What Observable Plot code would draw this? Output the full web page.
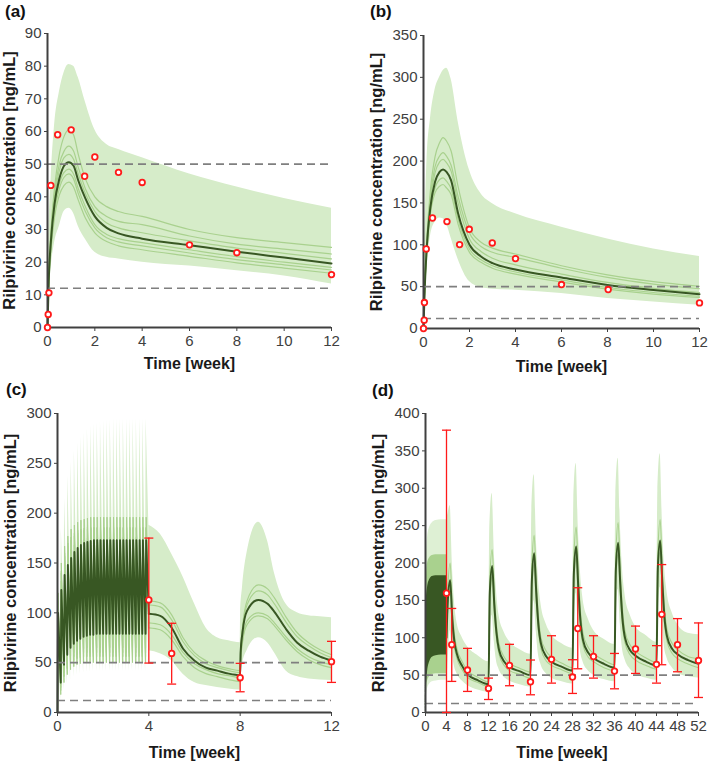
<!DOCTYPE html>
<html><head><meta charset="utf-8">
<script src="https://cdn.jsdelivr.net/npm/d3@7"></script>
<script src="https://cdn.jsdelivr.net/npm/@observablehq/plot@0.6"></script>
<style>
body{margin:0;background:#fff;}
#wrap{position:relative;width:709px;height:763px;font-family:"Liberation Sans",Arial,Helvetica,sans-serif;overflow:hidden;}
.panel{position:absolute;}
.lab{position:absolute;font-weight:bold;font-size:17px;color:#111;}
</style></head>
<body><div id="wrap"></div>
<script>
// ---------------- DATA ----------------
const Y_TITLE = "Rilpivirine concentration [ng/mL]";
const X_TITLE = "Time [week]";
const refLevels = [50, 12];

// Panel (a)
const aYTicks = [0,10,20,30,40,50,60,70,80,90];
const aXTicks = [0,2,4,6,8,10,12];
const aT   = [0,0.05,0.15,0.3,0.5,0.7,0.9,1.1,1.3,1.6,2,2.5,3,4,6,8,10,12];
const aMed = [0,14,27,38,45.5,49.5,50.6,49.5,45,39.5,34,30.5,28.8,27.2,25.2,23.2,21.4,19.6];
const aHi  = [0,25,45,62,72,78,80.5,80,76.5,69,60.5,56,54.5,52,47,43,39.5,36.5];
const aLo  = [0,8,18,26,31,35.5,36.5,35,31,27,23,21.5,21,20,18.8,17.4,15.8,13.3];
const aL1  = [0,15,30,43,53,58.5,60.5,59,53,45.5,40,37,35.5,34,30,27.5,26,24.5];
const aL2  = [0,14.5,29,41,50,54,55.5,54,49,42.5,37,34,32.5,31.5,28,25.5,24,22.5];
const aL3  = [0,14,28,40,48,52,53,51.5,47,41,35.5,32,30.5,29,26.5,24.3,22.7,21];
const aL4  = [0,13.5,26,37,44,47.5,48.5,47,42.5,37,31.5,28.5,27.2,26,23.8,21.7,20,18.4];
const aL5  = [0,13,25,35.5,42.5,46,47,45.5,41,35.5,30.5,27.5,26.2,25,22.8,20.8,19.2,17.6];
const aL6  = [0,12.5,24,34,40.5,43.5,44.5,43,39,33.5,29,26.3,25,23.8,21.8,19.8,18.2,16.6];
const aObsT = [0,0.03,0.06,0.14,0.43,1,1.57,2,3,4,6,8,12];
const aObsV = [0,4,10.6,43.5,59,60.5,46.3,52.2,47.5,44.4,25.3,22.9,16.2];

// Panel (b)
const bYTicks = [0,50,100,150,200,250,300,350];
const bXTicks = [0,2,4,6,8,10,12];
const bT   = [0,0.05,0.15,0.3,0.5,0.7,0.85,1.0,1.2,1.5,2,2.5,3,4,6,8,10,12];
const bMed = [0,45,100,145,175,187,190,187,177,138,100,86,78,70.5,61,52,46,41];
const bHi  = [0,90,200,250,285,300,308,311,298,248,189,161,149,137,121,107,95,86];
const bLo  = [0,20,70,110,127,132,131,125,108,83,56,49,47,45.7,41.8,35.8,31.8,27.8];
const bL1  = [0,50,110,165,205,222,228,224,212,170,120,103,96,89,75,64,56,50.5];
const bL2  = [0,48,106,157,193,206,210,206,195,158,114,98,91,85,72,61,53,47.5];
const bL3  = [0,47,104,153,186,199,202,198,188,150,107,92,84,76,65,55,48,43];
const bL4  = [0,44,97,140,168,178,180,176,167,131,95,82,75,67.5,58,49,43,38.5];
const bL5  = [0,43,95,137,162,170,172,168,160,125,91,79,72,65,55.5,47,41,37];
const bObsT = [0,0.03,0.04,0.12,0.39,1.02,1.57,1.99,2.99,4,6,8.03,12];
const bObsV = [0,10,31,95,132,127.7,100.2,118.5,102.2,83.5,52.5,46.5,30.6];

// Panel (c) – oral daily dosing (days 0..27), then injections
const cYTicks = [0,50,100,150,200,250,300];
const cXTicks = [0,4,8,12];
const cOralDay = [0,1,2,3,4,5,6,7,8,9,10,11,12,13,14,15,16,17,18,19,20,21,22,23,24,25,26,27];
const cOralMedTr = [0,30,48,58,65,69,72,74,76,77,78,78,79,79,79,79,79,79,79,79,79,79,79,79,79,79,79,79];
const cOralMedPk = [100,123,138,148,155,161,165,168,170,171,172,173,173,173,173,173,173,173,173,173,173,173,173,173,173,173,173,173];
const cOralL1Tr = [0,25,40,48,53,56,58,59,60,60,60,60,60,60,60,60,60,60,60,60,60,60,60,60,60,60,60,60];
const cOralL1Pk = [120,150,167,177,184,188,191,193,194,195,196,196,196,196,196,196,196,196,196,196,196,196,196,196,196,196,196,196];
const cOralL2Tr = [0,28,44,52,57,60,62,63,64,65,65,65,65,65,65,65,65,65,65,65,65,65,65,65,65,65,65,65];
const cOralL2Pk = [110,140,157,167,173,177,180,182,183,184,185,185,185,185,185,185,185,185,185,185,185,185,185,185,185,185,185,185];
const cOralL3Tr = [0,22,36,44,49,52,54,55,56,56,56,56,56,56,56,56,56,56,56,56,56,56,56,56,56,56,56,56];
const cOralL3Pk = [105,132,148,158,164,168,171,173,174,175,176,176,176,176,176,176,176,176,176,176,176,176,176,176,176,176,176,176];
const cOralL4Tr = [0,18,30,38,43,46,48,49,50,50,50,50,50,50,50,50,50,50,50,50,50,50,50,50,50,50,50,50];
const cOralL4Pk = [112,142,160,170,176,180,183,184,185,186,186,186,186,186,186,186,186,186,186,186,186,186,186,186,186,186,186,186];
const cOralHiTr = [0,60,85,100,110,116,120,123,125,127,128,129,130,130,130,130,130,130,130,130,130,130,130,130,130,130,130,130];
const cOralHiPk = [140,185,215,238,252,263,271,277,281,285,288,290,291,292,293,294,294,295,295,295,295,295,295,295,295,295,295,295];
const cOralLoTr = [0,12,22,28,32,35,37,38,39,40,40,41,41,41,41,41,41,41,41,41,41,41,41,41,41,41,41,41];
const cOralLoPk = [70,88,98,104,108,110,112,113,114,115,115,115,115,115,115,115,115,115,115,115,115,115,115,115,115,115,115,115];
const cT   = [4,4.5,5,5.5,6,6.5,7,7.5,8,8.02,8.1,8.3,8.8,9.2,9.5,10,10.5,11,11.5,12];
const cMed = [99,97,85,64,52,45,42,39,37.5,60,80,102,113,109,101,84,70,62,56,52];
const cHi  = [188,179,159,136,109,85,75,72,70,100,125,160,191,172,140,109,100,97,96,95];
const cLo  = [62,59,52,38.5,30,27,25,23.5,22.5,35,48,62,75,70,60,42,36,33.5,32.5,32];
const cL1  = [112,110,98,75,60,52,47,44,42,62,85,112,128,124,115,96,80,70,63,58];
const cL2  = [108,106,93,71,57,49,45,42,40,60,82,108,122,118,109,91,76,67,60,55];
const cL3  = [90,88,78,60,49,43,39,37,35,55,72,92,100,97,90,76,64,56,51,48];
const cL4  = [85,83,73,56,45,39,36,33,31,52,70,88,97,94,87,73,61,53,48,45];
const cObsT  = [4,5,8,12];
const cObsV  = [113,59.3,34.9,51];
const cObsLo = [49.6,28.5,20.8,30.2];
const cObsHi = [175,89.5,49.3,71.4];

// Panel (d)
const dYTicks = [0,50,100,150,200,250,300,350,400];
const dXTicks = [0,4,8,12,16,20,24,28,32,36,40,44,48,52];
const dOralT     = [0,0.15,0.4,0.8,1.3,2,3,4];
const dOralBandHi= [0,200,235,248,254,257,258,258];
const dOralBandLo= [0,18,32,38,41,42,43,43];
const dOralLtHi  = [0,175,200,207,210,211,211,211];
const dOralLtLo  = [0,28,42,48,51,52,52,52];
const dOralMedHi = [0,150,168,178,182,183,183,183];
const dOralMedLo = [0,32,55,68,74,76,77,77];
const dT = [4,4.25,4.7,5.1,5.5,6,7,8,10, 12,12.25,12.7,13.1,13.5,14,15,16,18, 20,20.25,20.7,21.1,21.5,22,23,24,26,
            28,28.25,28.7,29.1,29.5,30,31,32,34, 36,36.25,36.7,37.1,37.5,38,39,40,42, 44,44.25,44.7,45.1,45.5,46,47,48,50, 52];
const dMed = [100,150,177,125,95,78,62,51,43, 38,160,196,145,108,84,68,61,55, 50,175,213,160,118,92,75,68,61,
              56,185,222,168,124,97,80,73,65, 60,190,227,172,127,100,83,76,68, 63,193,230,175,129,102,85,78,70, 65];
const dHi  = [258,265,277,200,150,120,100,88,76, 68,250,293,215,165,130,107,95,84, 78,270,318,235,180,145,118,104,92,
              86,285,333,248,190,152,125,110,98, 91,290,340,255,195,158,130,115,103, 94,295,346,260,198,162,133,118,106, 104];
const dLo  = [43,60,110,80,62,52,42,36,30, 27,80,130,95,70,58,47,42,37, 34,95,150,108,78,64,52,46,41,
              38,100,160,115,83,68,56,50,44, 41,103,165,118,86,71,58,52,46, 43,105,168,120,88,73,60,53,48, 46];
const dL1  = [100,165,200,140,105,85,68,56,47, 41,180,218,160,118,92,74,66,59, 54,195,237,177,130,100,82,74,66,
              60,205,248,186,137,106,87,79,70, 64,210,254,190,140,109,90,82,73, 67,213,258,193,142,111,92,84,75, 72];
const dL2  = [100,140,165,115,88,72,57,47,40, 35,148,182,134,100,78,63,56,51, 46,162,198,148,109,85,69,63,57,
              52,172,207,156,115,90,74,68,60, 56,176,212,160,118,93,77,70,63, 58,179,215,162,120,95,79,72,65, 60];
const dObsT  = [4,5,8,12,16,20,24,28,29,32,36,40,44,45,48,52];
const dObsV  = [159.6,90.7,56.8,32.2,63,41.1,71.1,47.4,112.4,74.9,55.4,85,64.4,131.3,90.7,69.7];
const dObsLo = [0,41.6,28.2,17.4,35.8,23.7,39.3,25.5,58.5,46,31.7,52.3,39.3,63.9,54.5,20.1];
const dObsHi = [377.7,139.2,85.8,46,91.2,70.2,102.7,70.6,166.9,102.7,79,115.6,89.4,197.9,125.6,119.8];

// ---------------- STYLE ----------------
const BAND = "#d6ecc9", LIGHT = "#a9d18e", DARK = "#385723", RED = "#ff1a1a", AX = "#404040";
const FONT = '"Liberation Sans", Arial, Helvetica, sans-serif';

// ---------------- HELPERS ----------------
const series = (ts, vs) => ts.map((t, i) => ({t, v: vs[i]}));
const bandRows = (ts, lo, hi) => ts.map((t, i) => ({t, lo: lo[i], hi: hi[i]}));
const obsRows = (ts, vs, lo, hi) => ts.map((t, i) => ({t, v: vs[i], lo: lo ? lo[i] : null, hi: hi ? hi[i] : null}));
const PK = 0.025; // time to peak after an oral dose (weeks)
function zig(days, tr, pk, endT, endV) {
  const out = [];
  days.forEach((d, i) => { out.push({t: d / 7, v: tr[i]}); out.push({t: d / 7 + PK, v: pk[i]}); });
  out.push({t: endT, v: endV});
  return out;
}
function zigBand(days, loTr, loPk, hiTr, hiPk, endT, endLo, endHi) {
  const out = [];
  days.forEach((d, i) => { out.push({t: d / 7, lo: loTr[i], hi: hiTr[i]}); out.push({t: d / 7 + PK, lo: loPk[i], hi: hiPk[i]}); });
  out.push({t: endT, lo: endLo, hi: endHi});
  return out;
}
const capSym = {draw(ctx) { ctx.moveTo(-4.5, 0); ctx.lineTo(4.5, 0); }};

function panel(cfg) {
  const marks = [];
  for (const b of cfg.bands) marks.push(Plot.areaY(b.data, {x: "t", y1: "lo", y2: "hi", fill: b.fill, fillOpacity: b.op ?? 1, curve: b.curve ?? "monotone-x"}));
  for (const l of cfg.lines) marks.push(Plot.line(l.data, {x: "t", y: "v", stroke: l.stroke, strokeWidth: l.w, strokeOpacity: l.op ?? 1, curve: l.curve ?? "monotone-x"}));
  marks.push(Plot.ruleY(refLevels, {stroke: "#7f7f7f", strokeWidth: 1.6, strokeDasharray: "8,5"}));
  marks.push(Plot.ruleX([0], {stroke: AX, strokeWidth: 2}));
  marks.push(Plot.ruleY([0], {stroke: AX, strokeWidth: 2}));
  marks.push(Plot.axisY({ticks: cfg.yTicks, tickSize: 3, tickPadding: 3, label: null, fontSize: 15}));
  marks.push(Plot.axisX({ticks: cfg.xTicks, tickSize: 4, tickPadding: 4, label: null, fontSize: 15}));
  marks.push(Plot.text([Y_TITLE], {text: d => d, frameAnchor: "left", textAnchor: "middle", lineAnchor: "middle", rotate: -90, dx: -cfg.yDx, fontWeight: "bold", fontSize: 16.5, fill: "#1a1a1a"}));
  marks.push(Plot.text([X_TITLE], {text: d => d, frameAnchor: "bottom", textAnchor: "middle", lineAnchor: "middle", dy: cfg.xDy, fontWeight: "bold", fontSize: 16, fill: "#1a1a1a"}));
  if (cfg.err) {
    marks.push(Plot.ruleX(cfg.obs, {x: "t", y1: "lo", y2: "hi", stroke: RED, strokeWidth: 1.3}));
    marks.push(Plot.dot(cfg.obs, {x: "t", y: "hi", symbol: capSym, stroke: RED, strokeWidth: 1.3, fill: "none"}));
    marks.push(Plot.dot(cfg.obs, {x: "t", y: "lo", symbol: capSym, stroke: RED, strokeWidth: 1.3, fill: "none"}));
  }
  marks.push(Plot.dot(cfg.obs, {x: "t", y: "v", r: 2.8, stroke: RED, strokeWidth: 1.8, fill: "#fff"}));
  return Plot.plot({
    width: cfg.w, height: cfg.h,
    marginLeft: cfg.m[0], marginRight: cfg.m[1], marginTop: cfg.m[2], marginBottom: cfg.m[3],
    style: {fontFamily: FONT, fontSize: "15px", color: AX, background: "none", overflow: "visible"},
    x: {domain: cfg.xDomain},
    y: {domain: cfg.yDomain},
    marks
  });
}

const wrap = document.getElementById("wrap");
function place(svg, left, top) {
  const div = document.createElement("div");
  div.className = "panel"; div.style.left = left + "px"; div.style.top = top + "px";
  div.appendChild(svg); wrap.appendChild(div);
}
function label(txt, left, top) {
  const d = document.createElement("div"); d.className = "lab"; d.textContent = txt;
  d.style.left = left + "px"; d.style.top = top + "px"; wrap.appendChild(d);
}

// (a)
place(panel({
  w: 355, h: 380, m: [47, 24, 33, 53], xDomain: [0, 12], yDomain: [0, 90],
  xTicks: aXTicks, yTicks: aYTicks, yDx: 38, xDy: 36,
  bands: [{data: bandRows(aT, aLo, aHi), fill: BAND}],
  lines: [aL1, aL2, aL3, aL4, aL5, aL6].map(a => ({data: series(aT, a), stroke: LIGHT, w: 1.2}))
    .concat([{data: series(aT, aMed), stroke: DARK, w: 2}]),
  obs: obsRows(aObsT, aObsV)
}), 0, 0);

// (b)
place(panel({
  w: 354, h: 380, m: [68, 10, 35, 52], xDomain: [0, 12], yDomain: [0, 350],
  xTicks: bXTicks, yTicks: bYTicks, yDx: 47, xDy: 38,
  bands: [{data: bandRows(bT, bLo, bHi), fill: BAND}],
  lines: [bL1, bL2, bL3, bL4, bL5].map(a => ({data: series(bT, a), stroke: LIGHT, w: 1.2}))
    .concat([{data: series(bT, bMed), stroke: DARK, w: 2}]),
  obs: obsRows(bObsT, bObsV)
}), 355, 0);

// (c)
place(panel({
  w: 355, h: 393, m: [57, 24, 43, 51], xDomain: [0, 12], yDomain: [0, 300],
  xTicks: cXTicks, yTicks: cYTicks, yDx: 47, xDy: 40,
  bands: [
    {data: zigBand(cOralDay, cOralLoTr, cOralLoPk, cOralHiTr, cOralHiPk, cT[0], cLo[0], cHi[0]), fill: BAND, curve: "linear"},
    {data: bandRows(cT, cLo, cHi), fill: BAND}
  ],
  lines: [
    {data: zig(cOralDay, cOralL1Tr, cOralL1Pk, cT[0], cL1[0]), stroke: LIGHT, w: 1, curve: "linear"},
    {data: zig(cOralDay, cOralL2Tr, cOralL2Pk, cT[0], cL2[0]), stroke: LIGHT, w: 1, curve: "linear"},
    {data: zig(cOralDay, cOralL3Tr, cOralL3Pk, cT[0], cL3[0]), stroke: LIGHT, w: 1, curve: "linear"},
    {data: zig(cOralDay, cOralL4Tr, cOralL4Pk, cT[0], cL4[0]), stroke: LIGHT, w: 1, curve: "linear"},
    ...[cL1, cL2, cL3, cL4].map(a => ({data: series(cT, a), stroke: LIGHT, w: 1.2})),
    {data: zig(cOralDay, cOralMedTr, cOralMedPk, cT[0], cMed[0]), stroke: DARK, w: 1.9, curve: "linear"},
    {data: series(cT, cMed), stroke: DARK, w: 2}
  ],
  obs: obsRows(cObsT, cObsV, cObsLo, cObsHi), err: true
}), 0, 370);

// (d)
place(panel({
  w: 354, h: 393, m: [70, 11, 43, 51], xDomain: [0, 52], yDomain: [0, 400],
  xTicks: dXTicks, yTicks: dYTicks, yDx: 47, xDy: 40,
  bands: [
    {data: bandRows(dOralT, dOralBandLo, dOralBandHi), fill: BAND, op: 0.8},
    {data: bandRows(dT, dLo, dHi), fill: BAND},
    {data: bandRows(dOralT, dOralLtLo, dOralLtHi), fill: LIGHT},
    {data: bandRows(dOralT, dOralMedLo, dOralMedHi), fill: DARK}
  ],
  lines: [
    {data: series(dT, dL1), stroke: LIGHT, w: 1.1},
    {data: series(dT, dL2), stroke: LIGHT, w: 1.1},
    {data: series(dT, dMed), stroke: DARK, w: 2}
  ],
  obs: obsRows(dObsT, dObsV, dObsLo, dObsHi), err: true
}), 355, 370);

label("(a)", 5, 2);
label("(b)", 370, 2);
label("(c)", 6, 380);
label("(d)", 372, 381);
</script>
</body></html>
